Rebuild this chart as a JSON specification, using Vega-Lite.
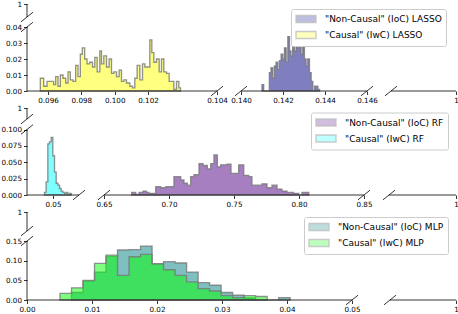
{
 "$schema": "https://vega.github.io/schema/vega-lite/v6.json",
 "padding": {"left": 0, "top": 0, "right": 0, "bottom": 0},
 "config": {
  "font": "DejaVu Sans",
  "view": {"stroke": null},
  "axis": {"labelFontSize": 7.2, "labelColor": "black", "tickColor": "black", "domain": false, "tickSize": 3.5, "tickWidth": 0.8, "labelPadding": 2, "grid": false, "labelFlush": false, "labelOverlap": false, "labelBound": false, "tickCount": 30},
  "legend": {"title": null, "orient": "none", "symbolType": "M-2,-0.7H2V0.7H-2Z", "symbolSize": 100, "symbolStrokeColor": "#808080", "symbolStrokeWidth": 1, "symbolOpacity": 0.5, "symbolOffset": 5, "labelFontSize": 9, "labelOffset": 13, "labelColor": "black", "padding": 4, "fillColor": "white", "strokeColor": "#cccccc", "cornerRadius": 2, "rowPadding": 2, "labelLimit": 300},
  "area": {"interpolate": "step-after", "fillOpacity": 0.5, "stroke": "#777777", "strokeWidth": 1.35, "strokeOpacity": 0.8, "clip": true},
  "rule": {"color": "black", "strokeWidth": 0.8},
  "point": {"shape": "M-1,0.8L1,-0.8", "size": 144, "filled": false, "color": "black", "strokeWidth": 0.8, "opacity": 1}
 },
 "datasets": {
  "lasso_c": [
   {"x":0.09554,"d":0.008,"s":"\"Causal\" (IwC) LASSO"},{"x":0.09574,"d":0.003,"s":"\"Causal\" (IwC) LASSO"},{"x":0.09594,"d":0.006,"s":"\"Causal\" (IwC) LASSO"},{"x":0.09634,"d":0.004,"s":"\"Causal\" (IwC) LASSO"},{"x":0.09646,"d":0.009,"s":"\"Causal\" (IwC) LASSO"},{"x":0.0966,"d":0.003,"s":"\"Causal\" (IwC) LASSO"},{"x":0.09674,"d":0.01,"s":"\"Causal\" (IwC) LASSO"},{"x":0.0969,"d":0.008,"s":"\"Causal\" (IwC) LASSO"},{"x":0.09706,"d":0.005,"s":"\"Causal\" (IwC) LASSO"},{"x":0.0972,"d":0.012,"s":"\"Causal\" (IwC) LASSO"},{"x":0.09734,"d":0.007,"s":"\"Causal\" (IwC) LASSO"},{"x":0.0975,"d":0.006,"s":"\"Causal\" (IwC) LASSO"},{"x":0.09766,"d":0.016,"s":"\"Causal\" (IwC) LASSO"},{"x":0.0978,"d":0.009,"s":"\"Causal\" (IwC) LASSO"},{"x":0.09794,"d":0.023,"s":"\"Causal\" (IwC) LASSO"},{"x":0.09806,"d":0.027,"s":"\"Causal\" (IwC) LASSO"},{"x":0.0982,"d":0.02,"s":"\"Causal\" (IwC) LASSO"},{"x":0.09834,"d":0.017,"s":"\"Causal\" (IwC) LASSO"},{"x":0.0985,"d":0.018,"s":"\"Causal\" (IwC) LASSO"},{"x":0.09867,"d":0.015,"s":"\"Causal\" (IwC) LASSO"},{"x":0.09881,"d":0.021,"s":"\"Causal\" (IwC) LASSO"},{"x":0.09895,"d":0.012,"s":"\"Causal\" (IwC) LASSO"},{"x":0.09911,"d":0.025,"s":"\"Causal\" (IwC) LASSO"},{"x":0.09921,"d":0.017,"s":"\"Causal\" (IwC) LASSO"},{"x":0.09935,"d":0.022,"s":"\"Causal\" (IwC) LASSO"},{"x":0.09951,"d":0.015,"s":"\"Causal\" (IwC) LASSO"},{"x":0.09967,"d":0.02,"s":"\"Causal\" (IwC) LASSO"},{"x":0.09981,"d":0.011,"s":"\"Causal\" (IwC) LASSO"},{"x":0.09995,"d":0.012,"s":"\"Causal\" (IwC) LASSO"},{"x":0.10011,"d":0.009,"s":"\"Causal\" (IwC) LASSO"},{"x":0.10027,"d":0.013,"s":"\"Causal\" (IwC) LASSO"},{"x":0.10041,"d":0.006,"s":"\"Causal\" (IwC) LASSO"},{"x":0.10055,"d":0.007,"s":"\"Causal\" (IwC) LASSO"},{"x":0.10071,"d":0.005,"s":"\"Causal\" (IwC) LASSO"},{"x":0.10091,"d":0.003,"s":"\"Causal\" (IwC) LASSO"},{"x":0.10107,"d":0.002,"s":"\"Causal\" (IwC) LASSO"},{"x":0.10121,"d":0.008,"s":"\"Causal\" (IwC) LASSO"},{"x":0.10135,"d":0.016,"s":"\"Causal\" (IwC) LASSO"},{"x":0.10151,"d":0.007,"s":"\"Causal\" (IwC) LASSO"},{"x":0.10167,"d":0.017,"s":"\"Causal\" (IwC) LASSO"},{"x":0.10181,"d":0.015,"s":"\"Causal\" (IwC) LASSO"},{"x":0.10195,"d":0.015,"s":"\"Causal\" (IwC) LASSO"},{"x":0.10211,"d":0.032,"s":"\"Causal\" (IwC) LASSO"},{"x":0.10223,"d":0.024,"s":"\"Causal\" (IwC) LASSO"},{"x":0.10235,"d":0.018,"s":"\"Causal\" (IwC) LASSO"},{"x":0.10251,"d":0.02,"s":"\"Causal\" (IwC) LASSO"},{"x":0.10267,"d":0.012,"s":"\"Causal\" (IwC) LASSO"},{"x":0.10281,"d":0.02,"s":"\"Causal\" (IwC) LASSO"},{"x":0.10295,"d":0.012,"s":"\"Causal\" (IwC) LASSO"},{"x":0.10311,"d":0.011,"s":"\"Causal\" (IwC) LASSO"},{"x":0.10327,"d":0.006,"s":"\"Causal\" (IwC) LASSO"},{"x":0.10341,"d":0.006,"s":"\"Causal\" (IwC) LASSO"},{"x":0.10355,"d":0.001,"s":"\"Causal\" (IwC) LASSO"},{"x":0.10371,"d":0.006,"s":"\"Causal\" (IwC) LASSO"},{"x":0.10385,"d":0.002,"s":"\"Causal\" (IwC) LASSO"},{"x":0.10395,"d":0,"s":"\"Causal\" (IwC) LASSO"}
  ],
  "lasso_nc": [
   {"x":0.141,"d":0.004,"s":"\"Non-Causal\" (IoC) LASSO"},{"x":0.14108,"d":0,"s":"\"Non-Causal\" (IoC) LASSO"},{"x":0.14135,"d":0.0115,"s":"\"Non-Causal\" (IoC) LASSO"},{"x":0.14143,"d":0.0146,"s":"\"Non-Causal\" (IoC) LASSO"},{"x":0.14151,"d":0.008,"s":"\"Non-Causal\" (IoC) LASSO"},{"x":0.14159,"d":0.0156,"s":"\"Non-Causal\" (IoC) LASSO"},{"x":0.14167,"d":0.018,"s":"\"Non-Causal\" (IoC) LASSO"},{"x":0.14175,"d":0.0135,"s":"\"Non-Causal\" (IoC) LASSO"},{"x":0.14183,"d":0.019,"s":"\"Non-Causal\" (IoC) LASSO"},{"x":0.14191,"d":0.023,"s":"\"Non-Causal\" (IoC) LASSO"},{"x":0.14199,"d":0.02,"s":"\"Non-Causal\" (IoC) LASSO"},{"x":0.14207,"d":0.027,"s":"\"Non-Causal\" (IoC) LASSO"},{"x":0.14215,"d":0.018,"s":"\"Non-Causal\" (IoC) LASSO"},{"x":0.14223,"d":0.034,"s":"\"Non-Causal\" (IoC) LASSO"},{"x":0.14231,"d":0.025,"s":"\"Non-Causal\" (IoC) LASSO"},{"x":0.14238,"d":0.022,"s":"\"Non-Causal\" (IoC) LASSO"},{"x":0.14246,"d":0.03,"s":"\"Non-Causal\" (IoC) LASSO"},{"x":0.14254,"d":0.025,"s":"\"Non-Causal\" (IoC) LASSO"},{"x":0.14262,"d":0.031,"s":"\"Non-Causal\" (IoC) LASSO"},{"x":0.1427,"d":0.027,"s":"\"Non-Causal\" (IoC) LASSO"},{"x":0.14278,"d":0.033,"s":"\"Non-Causal\" (IoC) LASSO"},{"x":0.14286,"d":0.023,"s":"\"Non-Causal\" (IoC) LASSO"},{"x":0.14294,"d":0.028,"s":"\"Non-Causal\" (IoC) LASSO"},{"x":0.14302,"d":0.02,"s":"\"Non-Causal\" (IoC) LASSO"},{"x":0.1431,"d":0.0156,"s":"\"Non-Causal\" (IoC) LASSO"},{"x":0.14318,"d":0.02,"s":"\"Non-Causal\" (IoC) LASSO"},{"x":0.14326,"d":0.0115,"s":"\"Non-Causal\" (IoC) LASSO"},{"x":0.14334,"d":0.006,"s":"\"Non-Causal\" (IoC) LASSO"},{"x":0.14342,"d":0,"s":"\"Non-Causal\" (IoC) LASSO"},{"x":0.1435,"d":0.003,"s":"\"Non-Causal\" (IoC) LASSO"},{"x":0.14358,"d":0.003,"s":"\"Non-Causal\" (IoC) LASSO"},{"x":0.14366,"d":0.001,"s":"\"Non-Causal\" (IoC) LASSO"},{"x":0.14374,"d":0,"s":"\"Non-Causal\" (IoC) LASSO"}
  ],
  "rf_c": [
   {"x":0.04711,"d":0.004,"s":"\"Causal\" (IwC) RF"},{"x":0.04768,"d":0.02,"s":"\"Causal\" (IwC) RF"},{"x":0.04825,"d":0.078,"s":"\"Causal\" (IwC) RF"},{"x":0.04881,"d":0.081,"s":"\"Causal\" (IwC) RF"},{"x":0.04938,"d":0.088,"s":"\"Causal\" (IwC) RF"},{"x":0.04994,"d":0.06,"s":"\"Causal\" (IwC) RF"},{"x":0.05051,"d":0.035,"s":"\"Causal\" (IwC) RF"},{"x":0.05108,"d":0.018,"s":"\"Causal\" (IwC) RF"},{"x":0.05164,"d":0.015,"s":"\"Causal\" (IwC) RF"},{"x":0.05221,"d":0.01,"s":"\"Causal\" (IwC) RF"},{"x":0.05277,"d":0.006,"s":"\"Causal\" (IwC) RF"},{"x":0.05334,"d":0.004,"s":"\"Causal\" (IwC) RF"},{"x":0.05391,"d":0.0025,"s":"\"Causal\" (IwC) RF"},{"x":0.05447,"d":0.004,"s":"\"Causal\" (IwC) RF"},{"x":0.05504,"d":0.001,"s":"\"Causal\" (IwC) RF"},{"x":0.0556,"d":0.0025,"s":"\"Causal\" (IwC) RF"},{"x":0.05617,"d":0,"s":"\"Causal\" (IwC) RF"}
  ],
  "rf_nc": [
   {"x":0.6713,"d":0.004,"s":"\"Non-Causal\" (IoC) RF"},{"x":0.6744,"d":0.001,"s":"\"Non-Causal\" (IoC) RF"},{"x":0.6769,"d":0.004,"s":"\"Non-Causal\" (IoC) RF"},{"x":0.68,"d":0.006,"s":"\"Non-Causal\" (IoC) RF"},{"x":0.6826,"d":0.004,"s":"\"Non-Causal\" (IoC) RF"},{"x":0.6846,"d":0.0025,"s":"\"Non-Causal\" (IoC) RF"},{"x":0.6898,"d":0.0126,"s":"\"Non-Causal\" (IoC) RF"},{"x":0.6936,"d":0.011,"s":"\"Non-Causal\" (IoC) RF"},{"x":0.6975,"d":0.0126,"s":"\"Non-Causal\" (IoC) RF"},{"x":0.7038,"d":0.028,"s":"\"Non-Causal\" (IoC) RF"},{"x":0.709,"d":0.023,"s":"\"Non-Causal\" (IoC) RF"},{"x":0.7115,"d":0.018,"s":"\"Non-Causal\" (IoC) RF"},{"x":0.7141,"d":0.015,"s":"\"Non-Causal\" (IoC) RF"},{"x":0.7167,"d":0.028,"s":"\"Non-Causal\" (IoC) RF"},{"x":0.7192,"d":0.031,"s":"\"Non-Causal\" (IoC) RF"},{"x":0.7231,"d":0.048,"s":"\"Non-Causal\" (IoC) RF"},{"x":0.7262,"d":0.045,"s":"\"Non-Causal\" (IoC) RF"},{"x":0.7295,"d":0.04,"s":"\"Non-Causal\" (IoC) RF"},{"x":0.7321,"d":0.048,"s":"\"Non-Causal\" (IoC) RF"},{"x":0.7346,"d":0.061,"s":"\"Non-Causal\" (IoC) RF"},{"x":0.7372,"d":0.043,"s":"\"Non-Causal\" (IoC) RF"},{"x":0.7397,"d":0.046,"s":"\"Non-Causal\" (IoC) RF"},{"x":0.7446,"d":0.047,"s":"\"Non-Causal\" (IoC) RF"},{"x":0.7477,"d":0.033,"s":"\"Non-Causal\" (IoC) RF"},{"x":0.7536,"d":0.046,"s":"\"Non-Causal\" (IoC) RF"},{"x":0.7575,"d":0.03,"s":"\"Non-Causal\" (IoC) RF"},{"x":0.7613,"d":0.028,"s":"\"Non-Causal\" (IoC) RF"},{"x":0.7638,"d":0.015,"s":"\"Non-Causal\" (IoC) RF"},{"x":0.7715,"d":0.017,"s":"\"Non-Causal\" (IoC) RF"},{"x":0.7754,"d":0.011,"s":"\"Non-Causal\" (IoC) RF"},{"x":0.7792,"d":0.015,"s":"\"Non-Causal\" (IoC) RF"},{"x":0.7831,"d":0.009,"s":"\"Non-Causal\" (IoC) RF"},{"x":0.7869,"d":0.006,"s":"\"Non-Causal\" (IoC) RF"},{"x":0.7908,"d":0.004,"s":"\"Non-Causal\" (IoC) RF"},{"x":0.7959,"d":0.0025,"s":"\"Non-Causal\" (IoC) RF"},{"x":0.7998,"d":0,"s":"\"Non-Causal\" (IoC) RF"},{"x":0.8023,"d":0.004,"s":"\"Non-Causal\" (IoC) RF"},{"x":0.8075,"d":0,"s":"\"Non-Causal\" (IoC) RF"}
  ],
  "mlp_nc": [
   {"x":0.00685,"d":0.019,"s":"\"Non-Causal\" (IoC) MLP"},{"x":0.00862,"d":0.048,"s":"\"Non-Causal\" (IoC) MLP"},{"x":0.01039,"d":0.071,"s":"\"Non-Causal\" (IoC) MLP"},{"x":0.01216,"d":0.111,"s":"\"Non-Causal\" (IoC) MLP"},{"x":0.01393,"d":0.127,"s":"\"Non-Causal\" (IoC) MLP"},{"x":0.0157,"d":0.128,"s":"\"Non-Causal\" (IoC) MLP"},{"x":0.01747,"d":0.137,"s":"\"Non-Causal\" (IoC) MLP"},{"x":0.01924,"d":0.092,"s":"\"Non-Causal\" (IoC) MLP"},{"x":0.02101,"d":0.0975,"s":"\"Non-Causal\" (IoC) MLP"},{"x":0.02278,"d":0.094,"s":"\"Non-Causal\" (IoC) MLP"},{"x":0.02455,"d":0.071,"s":"\"Non-Causal\" (IoC) MLP"},{"x":0.02632,"d":0.044,"s":"\"Non-Causal\" (IoC) MLP"},{"x":0.02809,"d":0.0375,"s":"\"Non-Causal\" (IoC) MLP"},{"x":0.02986,"d":0.019,"s":"\"Non-Causal\" (IoC) MLP"},{"x":0.03163,"d":0.012,"s":"\"Non-Causal\" (IoC) MLP"},{"x":0.0334,"d":0.005,"s":"\"Non-Causal\" (IoC) MLP"},{"x":0.03517,"d":0,"s":"\"Non-Causal\" (IoC) MLP"},{"x":0.03871,"d":0.006,"s":"\"Non-Causal\" (IoC) MLP"},{"x":0.04048,"d":0,"s":"\"Non-Causal\" (IoC) MLP"}
  ],
  "mlp_c": [
   {"x":0.00508,"d":0.0167,"s":"\"Causal\" (IwC) MLP"},{"x":0.00685,"d":0.031,"s":"\"Causal\" (IwC) MLP"},{"x":0.00862,"d":0.05,"s":"\"Causal\" (IwC) MLP"},{"x":0.01039,"d":0.093,"s":"\"Causal\" (IwC) MLP"},{"x":0.01216,"d":0.114,"s":"\"Causal\" (IwC) MLP"},{"x":0.01393,"d":0.0625,"s":"\"Causal\" (IwC) MLP"},{"x":0.0157,"d":0.11,"s":"\"Causal\" (IwC) MLP"},{"x":0.01747,"d":0.116,"s":"\"Causal\" (IwC) MLP"},{"x":0.01924,"d":0.092,"s":"\"Causal\" (IwC) MLP"},{"x":0.02101,"d":0.077,"s":"\"Causal\" (IwC) MLP"},{"x":0.02278,"d":0.0625,"s":"\"Causal\" (IwC) MLP"},{"x":0.02455,"d":0.046,"s":"\"Causal\" (IwC) MLP"},{"x":0.02632,"d":0.029,"s":"\"Causal\" (IwC) MLP"},{"x":0.02809,"d":0.023,"s":"\"Causal\" (IwC) MLP"},{"x":0.02986,"d":0.011,"s":"\"Causal\" (IwC) MLP"},{"x":0.03163,"d":0.006,"s":"\"Causal\" (IwC) MLP"},{"x":0.0334,"d":0.011,"s":"\"Causal\" (IwC) MLP"},{"x":0.03517,"d":0.009,"s":"\"Causal\" (IwC) MLP"},{"x":0.03694,"d":0,"s":"\"Causal\" (IwC) MLP"}
  ]
 },
 "spacing": 17,
 "bounds": "flush",
 "resolve": {"scale": {"color": "independent", "x": "independent", "y": "independent"}, "legend": {"color": "independent"}},
 "vconcat": [
  {
   "width": 429, "height": 87,
   "layer": [
    {"data": {"name": "lasso_nc"}, "mark": "area",
     "encoding": {
      "x": {"field": "x", "type": "quantitative", "scale": {"domain": [0.09474, 0.10614, 0.14, 0.146, 0.99, 1], "range": [0, 190, 214, 340, 364, 429], "nice": false, "zero": false},
            "axis": {"values": [0.096, 0.098, 0.1, 0.102, 0.10614, 0.14, 0.142, 0.144, 0.146, 1], "tickCount": 30, "labelOverlap": false, "labelExpr": "datum.value == 1 ? '1' : (datum.value > 0.105 && datum.value < 0.11 ? '0.104' : format(datum.value, '.3f'))", "title": null}},
      "y": {"field": "d", "type": "quantitative", "stack": null, "scale": {"domain": [0, 0.04, 0.99, 1], "range": [87, 23, 13, 0], "nice": false, "zero": false},
            "axis": {"values": [0, 0.01, 0.02, 0.03, 0.04, 1], "tickCount": 30, "labelOverlap": false, "labelExpr": "datum.value == 1 ? '1' : format(datum.value, '.2f')", "title": null}},
      "color": {"field": "s", "type": "nominal", "scale": {"domain": ["\"Non-Causal\" (IoC) LASSO", "\"Causal\" (IwC) LASSO"], "range": ["#000080", "#ffff00"]}, "legend": {"legendX": 264, "legendY": 5}}
     }},
    {"data": {"name": "lasso_c"}, "mark": "area",
     "encoding": {"x": {"field": "x", "type": "quantitative"}, "y": {"field": "d", "type": "quantitative", "stack": null}, "color": {"field": "s", "type": "nominal"}}},
    {"data": {"values": [{"seg": 1}]}, "mark": "rule", "encoding": {"x": {"datum": 0.09474, "type": "quantitative", "title": null}, "x2": {"datum": 0.10614}, "y": {"datum": 0, "type": "quantitative", "title": null}}},
    {"data": {"values": [{"seg": 1}]}, "mark": "rule", "encoding": {"x": {"datum": 0.14, "type": "quantitative", "title": null}, "x2": {"datum": 0.146}, "y": {"datum": 0, "type": "quantitative", "title": null}}},
    {"data": {"values": [{"seg": 1}]}, "mark": "rule", "encoding": {"x": {"datum": 0.99, "type": "quantitative", "title": null}, "x2": {"datum": 1}, "y": {"datum": 0, "type": "quantitative", "title": null}}},
    {"data": {"values": [{"seg": 1}]}, "mark": "rule", "encoding": {"x": {"datum": 0.09474, "type": "quantitative", "title": null}, "y": {"datum": 0, "type": "quantitative", "title": null}, "y2": {"datum": 0.04}}},
    {"data": {"values": [{"seg": 1}]}, "mark": "rule", "encoding": {"x": {"datum": 0.09474, "type": "quantitative", "title": null}, "y": {"datum": 0.99, "type": "quantitative", "title": null}, "y2": {"datum": 1}}},
    {"data": {"values": [{"brk": 1}]}, "mark": "point", "encoding": {"x": {"datum": 0.09474, "type": "quantitative", "title": null}, "y": {"datum": 0.99, "type": "quantitative", "title": null}}},
    {"data": {"values": [{"brk": 1}]}, "mark": "point", "encoding": {"x": {"datum": 0.09474, "type": "quantitative", "title": null}, "y": {"datum": 0.04, "type": "quantitative", "title": null}}},
    {"data": {"values": [{"brk": 1}]}, "mark": "point", "encoding": {"x": {"datum": 0.10614, "type": "quantitative", "title": null}, "y": {"datum": 0, "type": "quantitative", "title": null}}},
    {"data": {"values": [{"brk": 1}]}, "mark": "point", "encoding": {"x": {"datum": 0.14, "type": "quantitative", "title": null}, "y": {"datum": 0, "type": "quantitative", "title": null}}},
    {"data": {"values": [{"brk": 1}]}, "mark": "point", "encoding": {"x": {"datum": 0.146, "type": "quantitative", "title": null}, "y": {"datum": 0, "type": "quantitative", "title": null}}},
    {"data": {"values": [{"brk": 1}]}, "mark": "point", "encoding": {"x": {"datum": 0.99, "type": "quantitative", "title": null}, "y": {"datum": 0, "type": "quantitative", "title": null}}}
   ]
  },
  {
   "width": 429, "height": 87,
   "layer": [
    {"data": {"name": "rf_nc"}, "mark": "area",
     "encoding": {
      "x": {"field": "x", "type": "quantitative", "scale": {"domain": [0.0412, 0.0588, 0.65, 0.85, 0.99, 1], "range": [0, 52, 77, 337, 362, 429], "nice": false, "zero": false},
            "axis": {"values": [0.05, 0.65, 0.7, 0.75, 0.8, 0.85, 1], "tickCount": 30, "labelOverlap": false, "labelExpr": "datum.value == 1 ? '1' : format(datum.value, '.2f')", "title": null}},
      "y": {"field": "d", "type": "quantitative", "stack": null, "scale": {"domain": [0, 0.1, 0.99, 1], "range": [87, 21.5, 11, 0], "nice": false, "zero": false},
            "axis": {"values": [0, 0.025, 0.05, 0.075, 0.1, 1], "tickCount": 30, "labelOverlap": false, "labelExpr": "datum.value == 1 ? '1' : format(datum.value, '.3f')", "title": null}},
      "color": {"field": "s", "type": "nominal", "scale": {"domain": ["\"Non-Causal\" (IoC) RF", "\"Causal\" (IwC) RF"], "range": ["#4b0082", "#00ffff"]}, "legend": {"legendX": 284, "legendY": 4.5}}
     }},
    {"data": {"name": "rf_c"}, "mark": "area",
     "encoding": {"x": {"field": "x", "type": "quantitative"}, "y": {"field": "d", "type": "quantitative", "stack": null}, "color": {"field": "s", "type": "nominal"}}},
    {"data": {"values": [{"seg": 1}]}, "mark": "rule", "encoding": {"x": {"datum": 0.0412, "type": "quantitative", "title": null}, "x2": {"datum": 0.0588}, "y": {"datum": 0, "type": "quantitative", "title": null}}},
    {"data": {"values": [{"seg": 1}]}, "mark": "rule", "encoding": {"x": {"datum": 0.65, "type": "quantitative", "title": null}, "x2": {"datum": 0.85}, "y": {"datum": 0, "type": "quantitative", "title": null}}},
    {"data": {"values": [{"seg": 1}]}, "mark": "rule", "encoding": {"x": {"datum": 0.99, "type": "quantitative", "title": null}, "x2": {"datum": 1}, "y": {"datum": 0, "type": "quantitative", "title": null}}},
    {"data": {"values": [{"seg": 1}]}, "mark": "rule", "encoding": {"x": {"datum": 0.0412, "type": "quantitative", "title": null}, "y": {"datum": 0, "type": "quantitative", "title": null}, "y2": {"datum": 0.1}}},
    {"data": {"values": [{"seg": 1}]}, "mark": "rule", "encoding": {"x": {"datum": 0.0412, "type": "quantitative", "title": null}, "y": {"datum": 0.99, "type": "quantitative", "title": null}, "y2": {"datum": 1}}},
    {"data": {"values": [{"brk": 1}]}, "mark": "point", "encoding": {"x": {"datum": 0.0412, "type": "quantitative", "title": null}, "y": {"datum": 0.99, "type": "quantitative", "title": null}}},
    {"data": {"values": [{"brk": 1}]}, "mark": "point", "encoding": {"x": {"datum": 0.0412, "type": "quantitative", "title": null}, "y": {"datum": 0.1, "type": "quantitative", "title": null}}},
    {"data": {"values": [{"brk": 1}]}, "mark": "point", "encoding": {"x": {"datum": 0.0588, "type": "quantitative", "title": null}, "y": {"datum": 0, "type": "quantitative", "title": null}}},
    {"data": {"values": [{"brk": 1}]}, "mark": "point", "encoding": {"x": {"datum": 0.65, "type": "quantitative", "title": null}, "y": {"datum": 0, "type": "quantitative", "title": null}}},
    {"data": {"values": [{"brk": 1}]}, "mark": "point", "encoding": {"x": {"datum": 0.85, "type": "quantitative", "title": null}, "y": {"datum": 0, "type": "quantitative", "title": null}}},
    {"data": {"values": [{"brk": 1}]}, "mark": "point", "encoding": {"x": {"datum": 0.99, "type": "quantitative", "title": null}, "y": {"datum": 0, "type": "quantitative", "title": null}}}
   ]
  },
  {
   "width": 429, "height": 88,
   "layer": [
    {"data": {"name": "mlp_nc"}, "mark": "area",
     "encoding": {
      "x": {"field": "x", "type": "quantitative", "scale": {"domain": [0, 0.05, 0.99, 1], "range": [0, 325, 363, 429], "nice": false, "zero": false},
            "axis": {"values": [0, 0.01, 0.02, 0.03, 0.04, 0.05, 1], "tickCount": 30, "labelOverlap": false, "labelExpr": "datum.value == 1 ? '1' : format(datum.value, '.2f')", "title": null}},
      "y": {"field": "d", "type": "quantitative", "stack": null, "scale": {"domain": [0, 0.15, 0.99, 1], "range": [88, 29, 19, 0], "nice": false, "zero": false},
            "axis": {"values": [0, 0.05, 0.1, 0.15, 1], "tickCount": 30, "labelOverlap": false, "labelExpr": "datum.value == 1 ? '1' : format(datum.value, '.2f')", "title": null}},
      "color": {"field": "s", "type": "nominal", "scale": {"domain": ["\"Non-Causal\" (IoC) MLP", "\"Causal\" (IwC) MLP"], "range": ["#008080", "#00ff00"]}, "legend": {"legendX": 277, "legendY": 5}}
     }},
    {"data": {"name": "mlp_c"}, "mark": "area",
     "encoding": {"x": {"field": "x", "type": "quantitative"}, "y": {"field": "d", "type": "quantitative", "stack": null}, "color": {"field": "s", "type": "nominal"}}},
    {"data": {"values": [{"seg": 1}]}, "mark": "rule", "encoding": {"x": {"datum": 0, "type": "quantitative", "title": null}, "x2": {"datum": 0.05}, "y": {"datum": 0, "type": "quantitative", "title": null}}},
    {"data": {"values": [{"seg": 1}]}, "mark": "rule", "encoding": {"x": {"datum": 0.99, "type": "quantitative", "title": null}, "x2": {"datum": 1}, "y": {"datum": 0, "type": "quantitative", "title": null}}},
    {"data": {"values": [{"seg": 1}]}, "mark": "rule", "encoding": {"x": {"datum": 0, "type": "quantitative", "title": null}, "y": {"datum": 0, "type": "quantitative", "title": null}, "y2": {"datum": 0.15}}},
    {"data": {"values": [{"seg": 1}]}, "mark": "rule", "encoding": {"x": {"datum": 0, "type": "quantitative", "title": null}, "y": {"datum": 0.99, "type": "quantitative", "title": null}, "y2": {"datum": 1}}},
    {"data": {"values": [{"brk": 1}]}, "mark": "point", "encoding": {"x": {"datum": 0, "type": "quantitative", "title": null}, "y": {"datum": 0.99, "type": "quantitative", "title": null}}},
    {"data": {"values": [{"brk": 1}]}, "mark": "point", "encoding": {"x": {"datum": 0, "type": "quantitative", "title": null}, "y": {"datum": 0.15, "type": "quantitative", "title": null}}},
    {"data": {"values": [{"brk": 1}]}, "mark": "point", "encoding": {"x": {"datum": 0.05, "type": "quantitative", "title": null}, "y": {"datum": 0, "type": "quantitative", "title": null}}},
    {"data": {"values": [{"brk": 1}]}, "mark": "point", "encoding": {"x": {"datum": 0.99, "type": "quantitative", "title": null}, "y": {"datum": 0, "type": "quantitative", "title": null}}}
   ]
  }
 ]
}
